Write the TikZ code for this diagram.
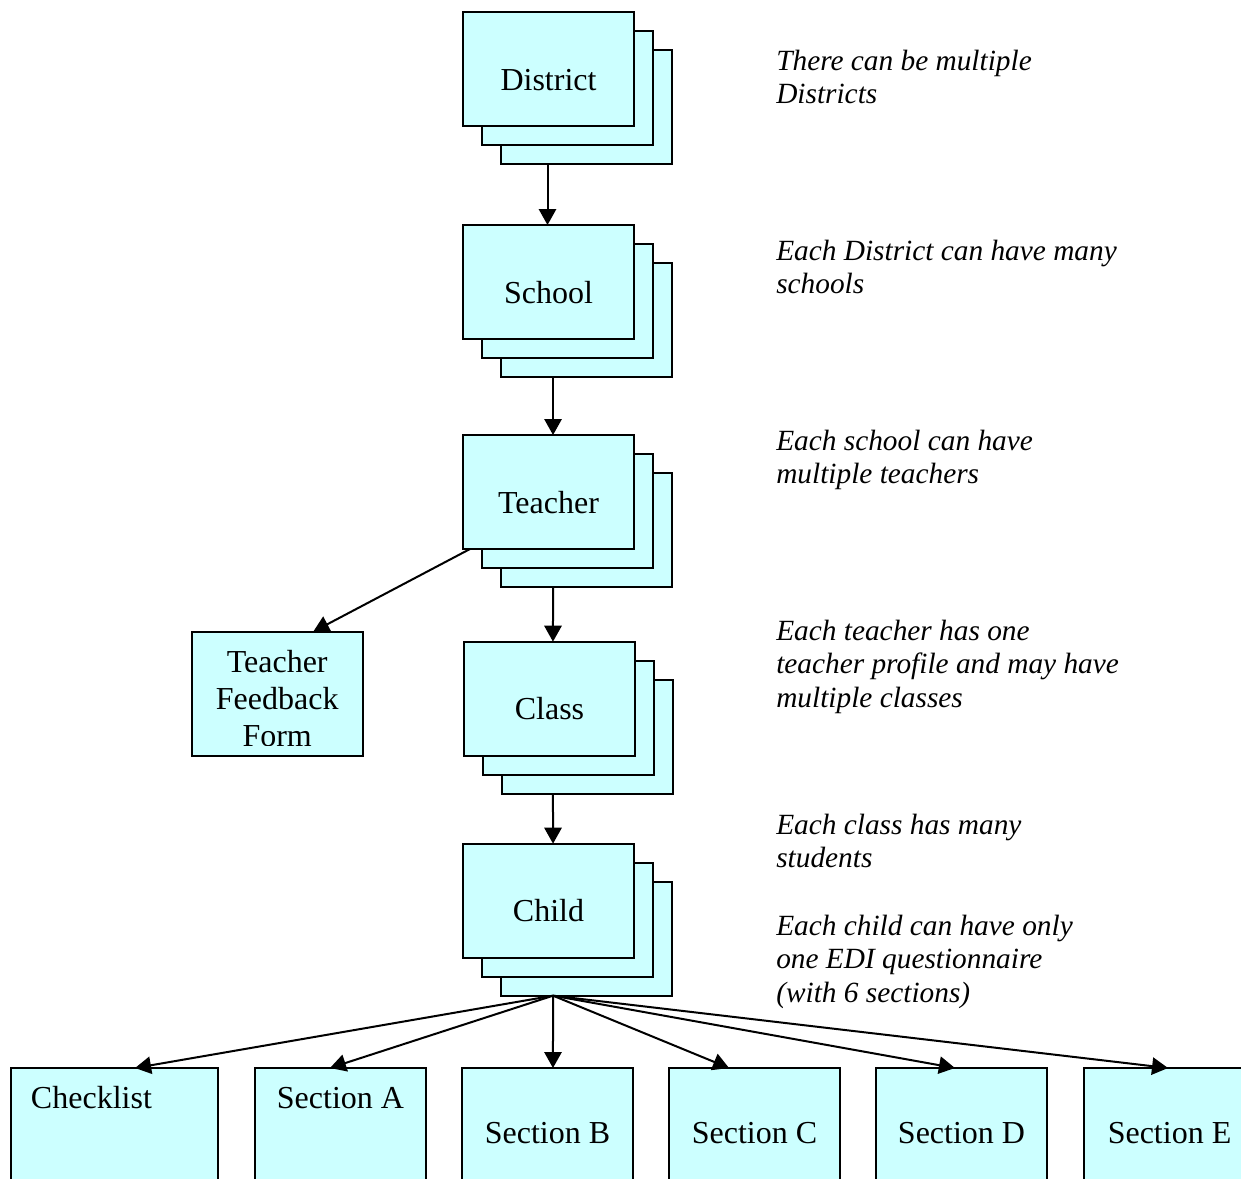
\documentclass[tikz,border=0pt]{standalone}
\usepackage{fontspec}
\setmainfont{Liberation Serif}
\usetikzlibrary{arrows.meta, backgrounds}
\definecolor{cardcyan}{HTML}{CCFFFF}
\tikzstyle{card} = [rectangle, draw=black, fill=cardcyan, line width=1.5pt, outer sep=0pt, minimum width=128.25pt, minimum height=85.5pt, text height=31.5pt, text depth=0pt, font=\fontsize{24}{28}\selectfont]
\tikzstyle{leaf} = [rectangle, draw=black, fill=cardcyan, line width=1.5pt, outer sep=0pt, minimum width=128.25pt, minimum height=93pt, inner ysep=2pt, text height=80pt, align=center, font=\fontsize{24}{28}\selectfont]
\tikzstyle{section} = [rectangle, draw=black, fill=cardcyan, line width=1.5pt, outer sep=0pt, anchor=north, minimum width=128.25pt, minimum height=112.5pt, text height=12pt, text depth=12pt, font=\fontsize{24}{28}\selectfont]
\tikzstyle{toptext} = [text height=0pt, text depth=52.5pt]
\tikzstyle{note} = [anchor=base west, inner sep=0pt, align=left, font=\fontsize{22}{25.1}\selectfont\itshape]
\tikzstyle{arrow} = [line width=1.5pt, -{Triangle[length=12pt, width=13pt]}]

\begin{document}
\begin{tikzpicture}[x=0.75pt, y=-0.75pt, node distance=150pt]
		\useasboundingbox (0,0) rectangle (1241,1178);
		\clip (0,0) rectangle (1241,1178);

		% main chain
		\node (district) [card] at (548.5,69) {District};
		\node (school) [card, below of = district, yshift = -9.75pt] {School};
		\node (teacher) [card, below of = school, yshift = -7.5pt] {Teacher};
		\node (class) [card, below of = teacher, xshift = 0.75pt, yshift = -5pt] {Class};
		\node (child) [card, below of = class, xshift = -0.75pt, yshift = -1.5pt] {Child};
		\node (tff) [leaf] at (277.2,693.7) {Teacher\\Feedback\\Form};
		\fill [cardcyan] ([xshift=1pt, yshift=0.8pt]tff.south west) rectangle ([xshift=-1pt, yshift=7.5pt]tff.south east);

		% the copies behind each card
		\begin{scope}[on background layer]
			\foreach \n in {district, school, teacher, class, child} {
				\draw [card] ([shift={(28.5pt,-28.5pt)}]\n.north west) rectangle ([shift={(28.5pt,-28.5pt)}]\n.south east);
				\draw [card] ([shift={(14.25pt,-14.25pt)}]\n.north west) rectangle ([shift={(14.25pt,-14.25pt)}]\n.south east);
			}
		\end{scope}

		% questionnaire parts
		\node (checklist) [section, toptext, minimum width=155.25pt, text width=125.25pt, inner xsep=15pt, align=left] at (114.5,1068) {Checklist};
		\node (secA) [section, toptext] at (340.5,1068) {Section A};
		\node (secB) [section] at (547.5,1068) {Section B};
		\node (secC) [section] at (754.5,1068) {Section C};
		\node (secD) [section] at (961.5,1068) {Section D};
		\node (secE) [section] at (1169.5,1068) {Section E};

		% notes (placed at the baseline of their last line)
		\node (n1) [note] at (776,103.5) {There can be multiple\\Districts};
		\node (n2) [note] at (776,293.5) {Each District can have many\\schools};
		\node (n3) [note] at (776,483.5) {Each school can have\\multiple teachers};
		\node (n4) [note] at (776,707) {Each teacher has one\\teacher profile and may have\\multiple classes};
		\node (n5) [note] at (776,867.5) {Each class has many\\students};
		\node (n6) [note] at (776,1002) {Each child can have only\\one EDI questionnaire\\(with 6 sections)};

		\draw [arrow] ([xshift=-0.75pt, yshift=-28.5pt]district.south) -- ([xshift=-0.75pt]school.north);
		\draw [arrow] ([xshift=3.4pt, yshift=-28.5pt]school.south) -- ([xshift=3.4pt]teacher.north);
		\draw [arrow] ([xshift=3.4pt, yshift=-28.5pt]teacher.south) -- ([xshift=2.6pt]class.north);
		\draw [arrow] ([xshift=2.6pt, yshift=-28.5pt]class.south) -- ([xshift=3.4pt]child.north);
		\draw [arrow] ([xshift=5.25pt]teacher.south west) -- ([xshift=27pt]tff.north);

		\coordinate (fan) at ([xshift=3.4pt, yshift=-28.5pt]child.south);
		\draw [arrow] (fan) -- ([xshift=15.4pt]checklist.north);
		\draw [arrow] (fan) -- ([xshift=-7.9pt]secA.north);
		\draw [arrow] (fan) -- ([xshift=4.1pt]secB.north);
		\draw [arrow] (fan) -- ([xshift=-19.1pt]secC.north);
		\draw [arrow] (fan) -- ([xshift=-4.9pt]secD.north);
		\draw [arrow] (fan) -- ([xshift=-1.1pt]secE.north);
	\end{tikzpicture}
\end{document}
